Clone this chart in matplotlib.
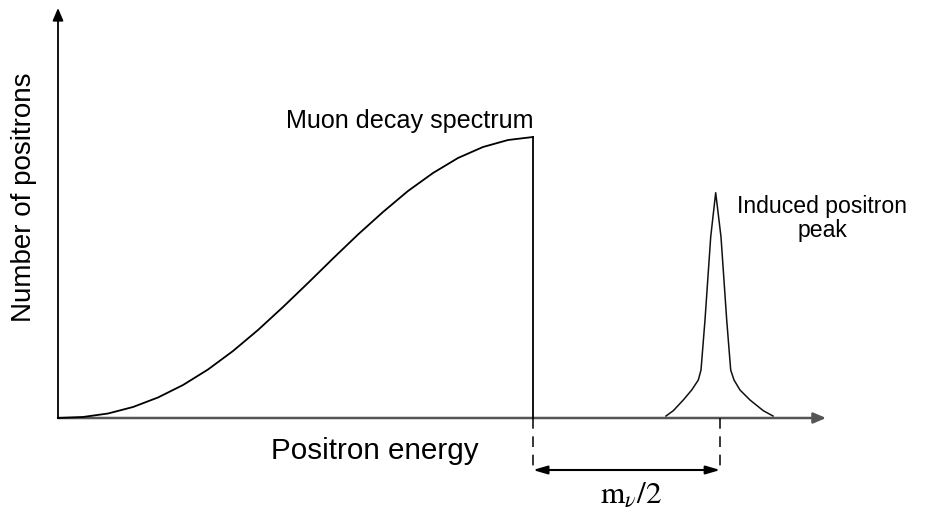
import matplotlib
matplotlib.use("Agg")
import matplotlib.pyplot as plt

# ---- data (normalised: energy endpoint = 1, spectrum endpoint height = 1) ----
spec_energy = [0.0, 0.0526, 0.1053, 0.1579, 0.2105, 0.2632, 0.3158, 0.3684,
               0.4211, 0.4737, 0.5263, 0.5789, 0.6316, 0.6842, 0.7368, 0.7895,
               0.8421, 0.8947, 0.9474, 1.0]
spec_counts = [0.0, 0.0036, 0.0160, 0.0391, 0.0730, 0.1174, 0.1726, 0.2384,
               0.3132, 0.3950, 0.4804, 0.5676, 0.6530, 0.7331, 0.8078, 0.8719,
               0.9253, 0.9644, 0.9893, 1.0]

peak_energy = [1.2800, 1.2954, 1.3164, 1.3341, 1.3480, 1.3537, 1.3621, 1.3741,
               1.3846, 1.3958, 1.4078, 1.4162, 1.4232, 1.4358, 1.4568, 1.4848,
               1.5053]
peak_counts = [0.0071, 0.0260, 0.0641, 0.0996, 0.1352, 0.1708, 0.3488, 0.6441,
               0.8018, 0.6441, 0.3488, 0.1708, 0.1352, 0.0996, 0.0641, 0.0260,
               0.0071]

endpoint = spec_energy[-1]
peak_pos = 1.394          # position of the m_nu/2 marker
x_axis_end = 1.617
y_axis_end = 1.459

labels = {
    "ylabel": "Number of positrons",
    "xlabel": "Positron energy",
    "spectrum": "Muon decay spectrum",
    "peak1": "Induced positron",
    "peak2": "peak",
    "shift": r"$\mathrm{m}_{\nu}/2$",
}

W, H = 931, 520
fig = plt.figure(figsize=(W / 100, H / 100), dpi=100)
ax = fig.add_axes([0, 0, 1, 1])
ax.set_xlim(-58 / 475, (W - 58) / 475)
ax.set_ylim(-102 / 281, 418 / 281)
ax.axis("off")

sans = ["Liberation Sans", "DejaVu Sans"]

# axes with arrows
ax.annotate("", xy=(0, y_axis_end), xytext=(0, 0),
            arrowprops=dict(arrowstyle="-|>,head_length=0.75,head_width=0.32",
                            mutation_scale=10, lw=1.3, color="black",
                            shrinkA=0, shrinkB=0))
ax.annotate("", xy=(x_axis_end, 0), xytext=(0, 0),
            arrowprops=dict(arrowstyle="-|>,head_length=0.75,head_width=0.32",
                            mutation_scale=10, lw=1.8, color="#555555",
                            shrinkA=0, shrinkB=0), zorder=1)

# spectrum
ax.plot(spec_energy, spec_counts, color="black", lw=1.3, zorder=3,
        solid_joinstyle="round")
ax.plot([endpoint, endpoint], [0, spec_counts[-1]], color="black", lw=1.3, zorder=3)

# induced peak
ax.plot(peak_energy, peak_counts, color="#111111", lw=1.1, zorder=3,
        solid_joinstyle="round")

# dashed markers under the axis
ylow = -(472 - 418) / 281
ax.plot([endpoint, endpoint], [0, ylow], color="black", lw=1.1, ls=(0, (7, 5)))
ax.plot([peak_pos, peak_pos], [0, ylow], color="black", lw=1.1, ls=(0, (7, 5)))

yarr = -(470 - 418) / 281
ax.annotate("", xy=(peak_pos, yarr), xytext=(endpoint, yarr),
            arrowprops=dict(arrowstyle="<|-|>,head_length=0.85,head_width=0.25",
                            mutation_scale=10, lw=1.5, color="black",
                            shrinkA=0, shrinkB=0))

def px(x, y):
    return x / W, 1 - y / H

fig.text(*px(24, 197), labels["ylabel"], rotation=90, ha="center", va="center",
         fontsize=20, family=sans)
fig.text(*px(375, 459), labels["xlabel"], ha="center", va="baseline",
         fontsize=21.3, family=sans)
fig.text(*px(410, 128), labels["spectrum"], ha="center", va="baseline",
         fontsize=18.1, family=sans)
fig.text(*px(822, 213), labels["peak1"], ha="center", va="baseline",
         fontsize=16.6, family=sans)
fig.text(*px(822, 237), labels["peak2"], ha="center", va="baseline",
         fontsize=16.6, family=sans)

fig.text(*px(631, 503), labels["shift"], ha="center", va="baseline",
         fontsize=22.5, math_fontfamily="stix")

fig.savefig("out.png", dpi=100)
